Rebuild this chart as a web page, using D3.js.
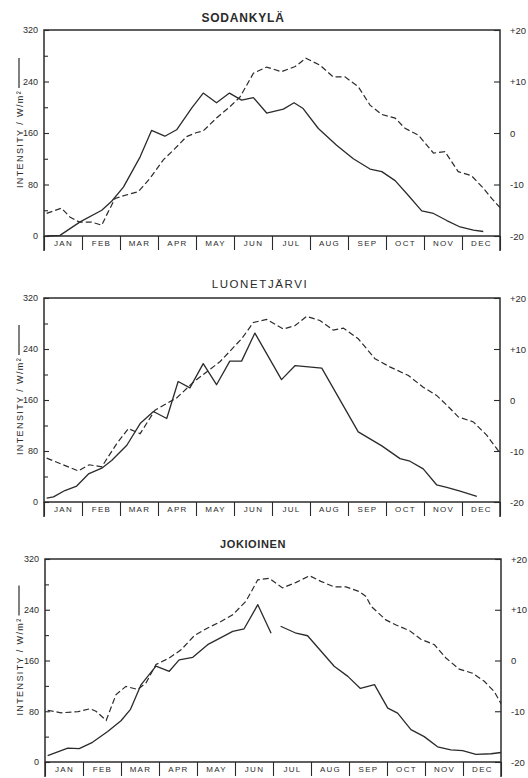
<!DOCTYPE html>
<html>
<head>
<meta charset="utf-8">
<script src="https://cdn.jsdelivr.net/npm/d3@7"></script>
<style>
  body { margin: 0; background: #fff; }
  svg { display: block; font-family: "Liberation Sans", Arial, sans-serif; }
</style>
</head>
<body>
<svg id="chart" width="528" height="778"></svg>
<script>
// Month labels along the bottom band
const MONTHS = ["JAN", "FEB", "MAR", "APR", "MAY", "JUN", "JUL", "AUG", "SEP", "OCT", "NOV", "DEC"];

// Tick values for the two y axes
const INTENSITY_TICKS = [0, 80, 160, 240, 320];
const INTENSITY_MINOR = [40, 120, 200, 280];
const TEMP_TICKS = [-20, -10, 0, 10, 20];

// Station names
const STATIONS = ["SODANKYLÄ", "LUONETJÄRVI", "JOKIOINEN"];

// [month position, intensity W/m²] (solid line)
const sodankylaIntensity = [
  [0.07, 0], [0.42, 1], [0.95, 22], [1.52, 40], [1.78, 54], [2.09, 76], [2.53, 123],
  [2.83, 164], [3.18, 155], [3.49, 165], [3.89, 199], [4.19, 222], [4.54, 207],
  [4.88, 222], [5.2, 211], [5.51, 215], [5.86, 191], [6.3, 197], [6.58, 207],
  [6.82, 198], [7.22, 167], [7.7, 141], [8.14, 120], [8.58, 104], [8.89, 100],
  [9.24, 86], [9.59, 63], [9.94, 39], [10.25, 35], [10.6, 24], [10.95, 14],
  [11.3, 9], [11.56, 7]
];
// [month position, temperature °C] (dashed line)
const sodankylaTemp = [
  [0.07, -15.6], [0.46, -14.6], [0.68, -16.3], [0.93, -17.3], [1.25, -17.3],
  [1.52, -17.9], [1.65, -15.9], [1.87, -12.7], [2.18, -12.0], [2.48, -11.4],
  [2.79, -8.8], [3.14, -5.2], [3.45, -3.0], [3.75, -0.7], [4.02, 0.1], [4.19, 0.4],
  [4.54, 2.9], [4.89, 5.1], [5.16, 7.0], [5.51, 11.6], [5.86, 12.8], [6.25, 11.9],
  [6.61, 12.9], [6.89, 14.5], [7.26, 13.2], [7.61, 10.9], [7.92, 10.9], [8.27, 9.0],
  [8.58, 5.4], [8.89, 3.6], [9.24, 2.9], [9.5, 0.9], [9.85, -0.4], [10.25, -3.9],
  [10.55, -3.6], [10.9, -7.5], [11.25, -8.3], [11.56, -10.7], [11.78, -12.7], [12, -14.5]
];

const luonetjarviIntensity = [
  [0.07, 6], [0.25, 8], [0.55, 18], [0.86, 25], [1.17, 44], [1.52, 53], [1.78, 65],
  [2.18, 89], [2.53, 123], [2.88, 142], [3.23, 131], [3.53, 189], [3.84, 179],
  [4.19, 217], [4.54, 184], [4.89, 221], [5.2, 221], [5.55, 265], [6.25, 192],
  [6.61, 214], [7.31, 210], [8.27, 110], [8.89, 88], [9.37, 68], [9.63, 64],
  [9.98, 52], [10.33, 27], [10.6, 23], [10.95, 17], [11.39, 9]
];
const luonetjarviTemp = [
  [0.07, -11.4], [0.9, -13.9], [1.19, -12.7], [1.52, -13.1], [1.91, -8.6],
  [2.22, -5.6], [2.53, -6.6], [2.92, -2.0], [3.49, 0.4], [3.93, 3.5], [4.28, 5.5],
  [4.63, 7.5], [5.2, 12.0], [5.51, 15.2], [5.86, 15.8], [6.3, 13.9], [6.61, 14.6],
  [6.91, 16.4], [7.26, 15.6], [7.61, 13.7], [7.88, 14.1], [8.27, 12.0], [8.71, 8.1],
  [9.1, 6.5], [9.59, 4.8], [9.98, 2.5], [10.33, 0.9], [10.6, -1.0], [10.9, -3.3],
  [11.3, -4.3], [11.65, -6.9], [11.91, -9.5], [12, -10.4]
];

// null = break in the original trace
const jokioinenIntensity = [
  [0.07, 10], [0.6, 22], [0.9, 21], [1.25, 31], [1.65, 48], [2.0, 65], [2.25, 83],
  [2.53, 122], [2.92, 151], [3.27, 143], [3.53, 161], [3.89, 165], [4.28, 185],
  [4.63, 196], [4.94, 206], [5.24, 210], [5.6, 248], [5.95, 203], null,
  [6.2, 214], [6.61, 203], [6.91, 199], [7.26, 175], [7.61, 151], [7.97, 135],
  [8.3, 116], [8.67, 122], [9.02, 85], [9.28, 77], [9.63, 51], [9.98, 40],
  [10.33, 24], [10.68, 19], [10.99, 18], [11.34, 12], [11.74, 13], [12, 15]
];
const jokioinenTemp = [
  [0.07, -9.8], [0.42, -10.3], [0.86, -10.1], [1.19, -9.5], [1.34, -10.0],
  [1.61, -11.8], [1.87, -6.7], [2.13, -5.1], [2.44, -5.7], [2.66, -4.4], [2.92, -0.8],
  [3.27, 0.5], [3.58, 2.1], [3.93, 4.9], [4.28, 6.4], [4.63, 7.7], [4.94, 9.0],
  [5.29, 11.7], [5.6, 15.9], [5.9, 16.2], [6.25, 14.3], [6.61, 15.4], [6.96, 16.7],
  [7.26, 15.6], [7.61, 14.5], [7.92, 14.5], [8.27, 13.6], [8.45, 12.6], [8.58, 10.7],
  [8.97, 8.0], [9.24, 7.0], [9.59, 5.9], [9.89, 4.2], [10.25, 3.1], [10.55, 0.5],
  [10.9, -1.7], [11.25, -2.5], [11.56, -4.1], [11.82, -6.1], [12, -8.5]
];

// Where each panel sits on the page
const panels = [
  { name: STATIONS[0], intensity: sodankylaIntensity, temp: sodankylaTemp,
    left: 44, right: 500, top: 30, bottom: 236, titleX: 243, titleY: 22, bold: true, spacing: 0.8, size: 12 },
  { name: STATIONS[1], intensity: luonetjarviIntensity, temp: luonetjarviTemp,
    left: 44, right: 500, top: 298, bottom: 502, titleX: 260, titleY: 288, bold: false, spacing: 1.6, size: 11.5 },
  { name: STATIONS[2], intensity: jokioinenIntensity, temp: jokioinenTemp,
    left: 45, right: 501, top: 559, bottom: 762, titleX: 253, titleY: 548, bold: true, spacing: 0.6, size: 11 }
];

const INK = "#2b2b2b";
const svg = d3.select("#chart");

panels.forEach((p) => {
  const x = d3.scaleLinear().domain([0, 12]).range([p.left, p.right]);
  const y = d3.scaleLinear().domain([0, 320]).range([p.bottom, p.top]);
  const yT = d3.scaleLinear().domain([-20, 20]).range([p.bottom, p.top]);

  const g = svg.append("g");

  // title
  g.append("text")
    .attr("x", p.titleX)
    .attr("y", p.titleY)
    .attr("text-anchor", "middle")
    .style("font-size", p.size + "px")
    .style("font-weight", p.bold ? "bold" : "normal")
    .style("letter-spacing", p.spacing + "px")
    .style("fill", INK)
    .text(p.name);

  // left axis: labelled ticks every 80, minor every 40, ticks point inward
  const leftAxis = g.append("g")
    .attr("transform", `translate(${p.left},0)`)
    .call(d3.axisLeft(y).tickValues(INTENSITY_TICKS).tickSize(-5).tickPadding(6));
  g.append("g")
    .attr("transform", `translate(${p.left},0)`)
    .call(d3.axisLeft(y).tickValues(INTENSITY_MINOR).tickSize(-4).tickFormat(""));

  // right axis: temperature
  const rightAxis = g.append("g")
    .attr("transform", `translate(${p.right},0)`)
    .call(d3.axisRight(yT).tickValues(TEMP_TICKS).tickSize(-6).tickPadding(10)
      .tickFormat((d) => (d > 0 ? "+" + d : d)));

  // month band under the plot: separators + centred labels
  g.append("g")
    .attr("transform", `translate(0,${p.bottom})`)
    .call(d3.axisBottom(x).tickValues(d3.range(0, 13)).tickSize(14).tickFormat(""));
  g.append("g")
    .attr("transform", `translate(0,${p.bottom})`)
    .call(d3.axisBottom(x).tickValues(d3.range(0.5, 12, 1)).tickSize(0).tickPadding(4)
      .tickFormat((d, i) => MONTHS[i]))
    .selectAll("text")
    .style("font-size", "8px")
    .style("letter-spacing", "1.3px");

  g.selectAll(".domain").remove();
  g.selectAll(".tick line").attr("stroke", INK).attr("stroke-width", 1.1);
  g.selectAll(".tick text").style("fill", INK);
  leftAxis.selectAll("text").style("font-size", "9px");
  rightAxis.selectAll("text").style("font-size", "9.5px");

  // frame
  g.append("rect")
    .attr("x", p.left)
    .attr("y", p.top)
    .attr("width", p.right - p.left)
    .attr("height", p.bottom - p.top)
    .attr("fill", "none")
    .attr("stroke", INK)
    .attr("stroke-width", 1.5);

  // left and right axis lines run down through the month band
  [p.left, p.right].forEach((xx) => {
    g.append("line")
      .attr("x1", xx).attr("x2", xx)
      .attr("y1", p.bottom).attr("y2", p.bottom + 15)
      .attr("stroke", INK).attr("stroke-width", 1.5);
  });

  // intensity (solid)
  const lineI = d3.line()
    .defined((d) => d !== null)
    .x((d) => x(d[0]))
    .y((d) => y(d[1]));
  g.append("path")
    .datum(p.intensity)
    .attr("d", lineI)
    .attr("fill", "none")
    .attr("stroke", INK)
    .attr("stroke-width", 1.3)
    .attr("stroke-linejoin", "round");

  // temperature (dashed)
  const lineT = d3.line()
    .x((d) => x(d[0]))
    .y((d) => yT(d[1]));
  g.append("path")
    .datum(p.temp)
    .attr("d", lineT)
    .attr("fill", "none")
    .attr("stroke", INK)
    .attr("stroke-width", 1.2)
    .attr("stroke-dasharray", "6,3");

  // rotated y label with the solid-line key above it
  const labelY = (p.top + p.bottom) / 2 + 6;
  const label = g.append("text")
    .attr("transform", `translate(23,${labelY}) rotate(-90)`)
    .attr("text-anchor", "middle")
    .style("font-size", "9px")
    .style("letter-spacing", "1.4px")
    .style("fill", INK)
    .text("INTENSITY / W/m²");
  const len = label.node().getComputedTextLength();
  g.append("line")
    .attr("x1", 19).attr("x2", 19)
    .attr("y1", labelY - len / 2 - 2)
    .attr("y2", labelY - len / 2 - 32)
    .attr("stroke", INK)
    .attr("stroke-width", 1.2);
});
</script>
</body>
</html>
